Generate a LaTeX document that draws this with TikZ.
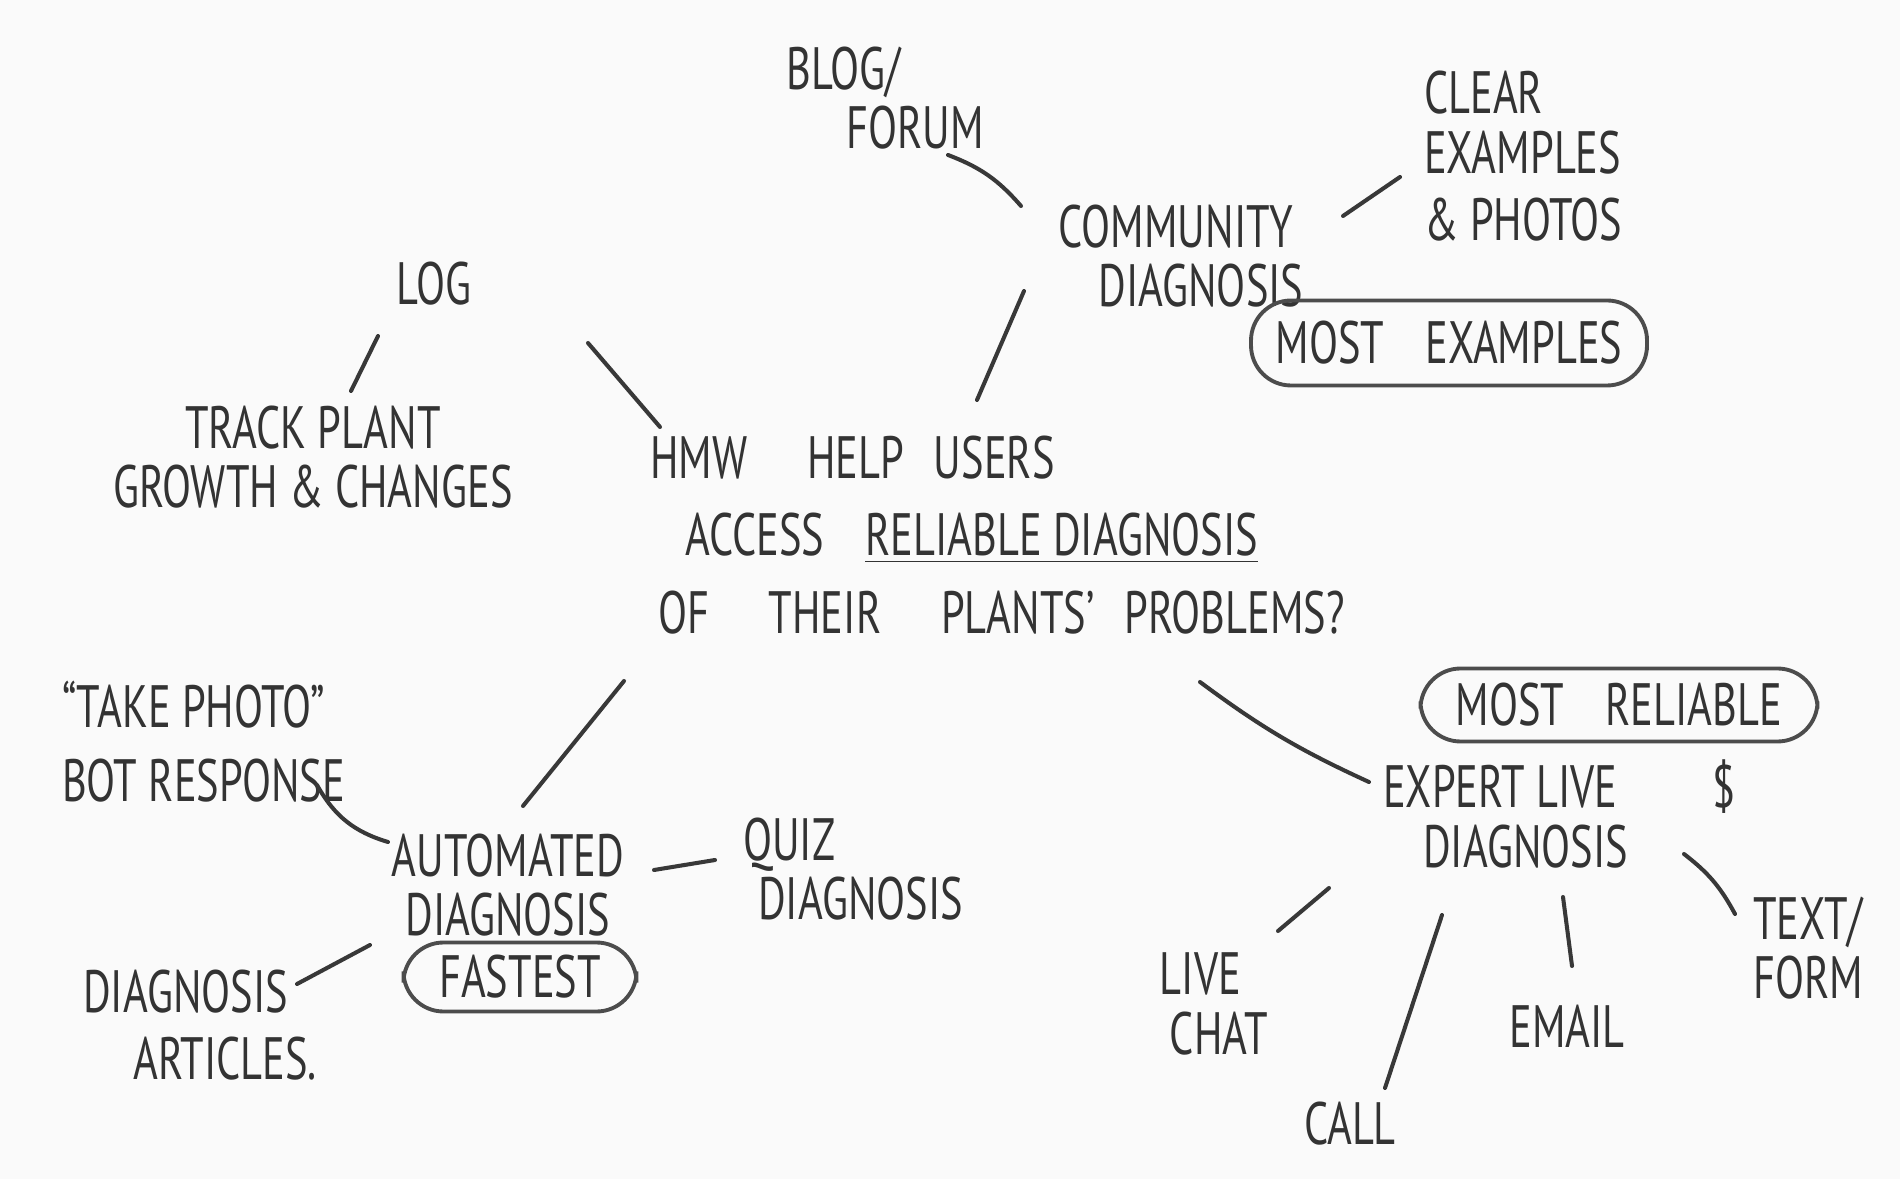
\documentclass[tikz,border=0pt]{standalone}
\usepackage{fontspec}
\setmainfont[FakeStretch=0.71]{PT Sans}
\usetikzlibrary{positioning}

\begin{document}
\begin{tikzpicture}[
  idea/.style={inner sep=1pt, text=black!80,
               font=\fontsize{17}{17}\selectfont},
  tag/.style={idea, draw=black!70, line width=1.1pt, rounded corners=4mm},
  link/.style={draw=black!78, line width=1.15pt, line cap=round}
]
  % Paper
  \fill[gray!4] (0,0) rectangle (19,-11.79);
  \useasboundingbox (0,0) rectangle (19,-11.79);

  % Question in the middle
  \node[idea, anchor=west, align=left] (hmw) at (6.46,-5.35)
    {HMW\quad HELP\enspace USERS\\[5pt]
     \hspace*{3.5mm}ACCESS\enspace\ \underline{RELIABLE DIAGNOSIS}\\[5pt]
     \hspace*{0.8mm}OF\quad THEIR\quad PLANTS'\enspace PROBLEMS?};

  % Community branch
  \node[idea, anchor=west, align=left] (blog) at (7.82,-0.98)
    {BLOG/\\\hspace*{6mm}FORUM};
  \node[idea, align=left] (comm) at (11.81,-2.56)
    {COMMUNITY\\\hspace*{4mm}DIAGNOSIS};
  \node[idea, anchor=west, align=left] (clear) at (14.20,-1.56)
    {CLEAR\\EXAMPLES\\[2pt]\& PHOTOS};
  \node[tag, minimum width=3.96cm, minimum height=0.85cm] (mostex) at (14.49,-3.43)
    {MOST\enspace\ EXAMPLES};

  % Log branch
  \node[idea] (log) at (4.34,-2.84) {LOG};
  \node[idea, align=center] (track) at (3.13,-4.57)
    {TRACK PLANT\\GROWTH \& CHANGES};

  % Automated branch
  \node[idea, align=center] (auto) at (5.08,-8.85) {AUTOMATED\\DIAGNOSIS};
  \node[tag, minimum width=2.33cm, minimum height=0.69cm] (fastest) at (5.20,-9.77)
    {FASTEST};
  \node[idea, anchor=west, align=left] (photo) at (0.58,-7.42)
    {``TAKE PHOTO''\\[4pt]BOT RESPONSE};
  \node[idea, anchor=west, align=left] (quiz) at (7.39,-8.69)
    {QUIZ\\\hspace*{1.5mm}DIAGNOSIS};
  \node[idea, anchor=west, align=left] (articles) at (0.79,-10.25)
    {DIAGNOSIS\\[2pt]\hspace*{5mm}ARTICLES.};

  % Expert branch
  \node[tag, minimum width=3.97cm, minimum height=0.73cm] (mostrel) at (16.19,-7.05)
    {MOST\enspace\ RELIABLE};
  \node[idea, anchor=west, align=left] (expert) at (13.79,-8.14)
    {EXPERT LIVE\hspace{0.95cm}\$\\\hspace*{4mm}DIAGNOSIS};
  \node[idea, align=left] (livechat) at (12.14,-10.04) {LIVE\\\hspace*{1mm}CHAT};
  \node[idea] (call) at (13.50,-11.24) {CALL};
  \node[idea] (email) at (15.67,-10.26) {EMAIL};
  \node[idea, align=left] (textform) at (18.08,-9.48) {TEXT/\\FORM};

  % Lines
  \draw[link] ([shift={(1.66,-0.57)}]blog.west) to[bend left=14]
              ([shift={(-1.60,0.50)}]comm.center);
  \draw[link] ([shift={(1.62,0.40)}]comm.center) -- ([shift={(-0.20,-0.21)}]clear.west);
  \draw[link] ([shift={(-1.57,-0.35)}]comm.center) -- ([shift={(3.31,1.35)}]hmw.west);
  \draw[link] ([shift={(-0.56,-0.52)}]log.center) -- ([shift={(0.38,0.66)}]track.center);
  \draw[link] ([shift={(1.54,-0.59)}]log.center) -- ([shift={(0.14,1.08)}]hmw.west);
  \draw[link] ([shift={(-0.22,-1.46)}]hmw.west) -- ([shift={(0.15,0.79)}]auto.center);
  \draw[link] ([shift={(5.54,-1.47)}]hmw.west) to[bend right=6]
              ([shift={(-0.10,0.32)}]expert.west);
  \draw[link] ([shift={(2.59,-0.43)}]photo.west) to[bend right=22]
              ([shift={(-1.20,0.43)}]auto.center);
  \draw[link] ([shift={(1.46,0.15)}]auto.center) -- ([shift={(-0.24,0.09)}]quiz.west);
  \draw[link] ([shift={(-1.38,-0.60)}]auto.center) -- ([shift={(2.18,0.41)}]articles.west);
  \draw[link] ([shift={(-0.50,-0.74)}]expert.west) -- ([shift={(0.64,0.73)}]livechat.center);
  \draw[link] ([shift={(0.63,-1.01)}]expert.west) -- ([shift={(0.35,0.36)}]call.center);
  \draw[link] ([shift={(1.84,-0.83)}]expert.west) -- ([shift={(0.05,0.60)}]email.center);
  \draw[link] ([shift={(3.05,-0.40)}]expert.west) to[bend left=12]
              ([shift={(-0.73,0.34)}]textform.center);
\end{tikzpicture}
\end{document}
